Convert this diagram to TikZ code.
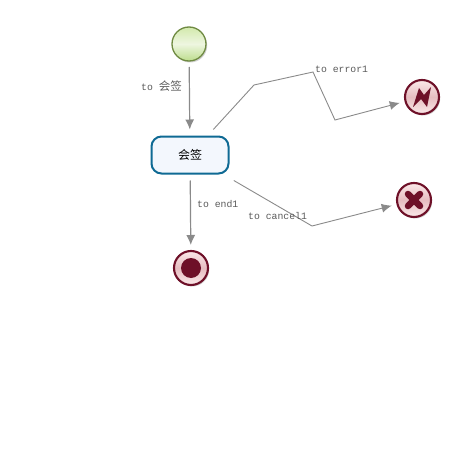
\documentclass[tikz,border=0pt]{standalone}
\usepackage{fontspec}
\setmainfont{Liberation Mono}
\newfontfamily\cjk{Noto Sans CJK SC}
\usetikzlibrary{arrows.meta,shadows,calc}
\definecolor{wire}{HTML}{8A8A8A}
\definecolor{maroon}{HTML}{6E1028}
\definecolor{pinkA}{HTML}{FBE9E9}
\definecolor{pinkB}{HTML}{E6BDC1}
\definecolor{greenA}{HTML}{D2E9AC}
\definecolor{greenB}{HTML}{EEF6E0}
\definecolor{greenC}{HTML}{BCDD8C}
\definecolor{olive}{HTML}{6F8A42}
\definecolor{taskblue}{HTML}{0F6A94}
\definecolor{taskfill}{HTML}{F3F7FD}
\definecolor{labelgray}{HTML}{5A5A5A}
\tikzset{
  x=1pt,y=-1pt,
  softshadow/.style={drop shadow={shadow xshift=1.2pt,shadow yshift=-1.5pt,opacity=.3,fill=black!60}},
  evt/.style={circle,minimum size=34pt,inner sep=0pt,outer sep=6pt,softshadow},
  startevt/.style={evt,draw=olive,line width=1.3pt,top color=greenA,bottom color=greenC,middle color=greenB},
  redevt/.style={evt,draw=maroon,line width=2.1pt,top color=pinkA,bottom color=pinkA,middle color=pinkB},
  taskbox/.style={draw=taskblue,line width=2pt,fill=taskfill,rounded corners=10pt,minimum width=77pt,minimum height=37pt,inner sep=0pt,outer sep=7pt,font=\cjk\fontsize{12}{14}\selectfont},
  wireline/.style={draw=wire,line width=.9pt},
  flow/.style={wireline,-{Latex[length=10pt,width=9pt]}},
  flowlabel/.style={font=\fontsize{9.8}{12}\selectfont,text=labelgray,inner sep=0pt,anchor=west},
  iconshape/.style={fill=maroon,draw=none},
}
\begin{document}
\begin{tikzpicture}
\useasboundingbox (0,0) rectangle (474,452);
\node[startevt] (start) at (189,44) {};
\node[taskbox] (task) at (190,155) {会签};
\node[redevt] (end) at (191,268) {};
\node[redevt] (error) at (422,97) {};
\node[redevt] (cancel) at (414,200) {};
\fill[iconshape] (end) circle (10pt);
\fill[iconshape] ($(error)+(-9,10)$) -- ($(error)+(-3,-9)$) -- ($(error)+(2,-2)$) -- ($(error)+(9,-10)$) -- ($(error)+(5,10)$) -- ($(error)+(-1,2)$) -- cycle;
\draw[maroon,line width=6.5pt,line cap=round] ($(cancel)+(-6,-6)$) -- ($(cancel)+(6,6)$);
\draw[maroon,line width=6.5pt,line cap=round] ($(cancel)+(6,-6)$) -- ($(cancel)+(-6,6)$);
\coordinate (e1) at (254,85);
\coordinate (e2) at (313,72);
\coordinate (e3) at (335,120);
\coordinate (c1) at (312,226);
\draw[flow,line width=1.2pt] (start) -- (task);
\draw[flow,line width=1.2pt] (task) -- (end);
\draw[flow] (task) -- (e1) -- (e2) -- (e3) -- (error);
\draw[flow] (task) -- (c1) -- (cancel);
\node[flowlabel] (l1) at (141,86) {to {\cjk\fontsize{11.5}{12}\selectfont 会签}};
\node[flowlabel] (l2) at (197,204) {to end1};
\node[flowlabel] (l3) at (315,69.5) {to error1};
\node[flowlabel] (l4) at (248,215.5) {to cancel1};
\end{tikzpicture}
\end{document}
